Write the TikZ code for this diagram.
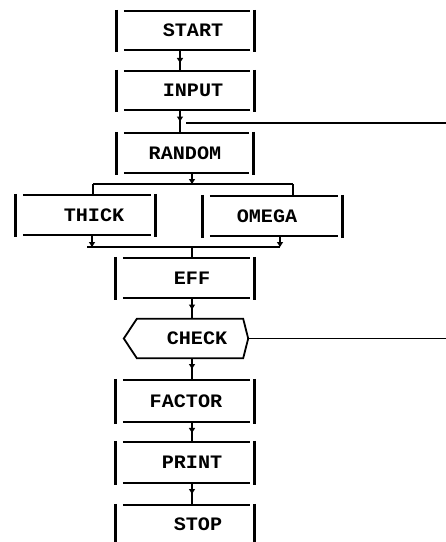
\documentclass[tikz,border=0pt]{standalone}
\usepackage{fontspec}
\newfontfamily\boxfont[FakeStretch=1.06]{Liberation Mono}
\usetikzlibrary{arrows.meta,decorations.markings,calc}
\tikzset{
  proc/.style={rectangle, inner sep=0pt, font=\boxfont\bfseries\fontsize{19}{19}\selectfont},
  hbar/.style={line width=1.8pt},
  vbar/.style={line width=2.8pt},
  flow/.style={line width=1.4pt},
  midarrow/.style={flow, postaction={decorate}, decoration={markings, mark=at position #1 with {\arrow{Triangle[length=5pt,width=6pt]}}}},
  endarrow/.style={flow, -{Triangle[length=5pt,width=6pt]}},
  feedback/.style={line width=1.6pt},
  txr/.style={execute at begin node={\hspace*{#1}}},
  txl/.style={execute at end node={\hspace*{#1}}},
}
\newcommand\procbox[1]{%
  \draw[vbar] ([yshift=1pt]#1.north west) -- ([yshift=-1.5pt]#1.south west);
  \draw[vbar] ([yshift=1pt]#1.north east) -- ([yshift=-1.5pt]#1.south east);
  \draw[hbar] ([xshift=7pt]#1.north west) -- ([xshift=-4pt]#1.north east);
  \draw[hbar] ([xshift=7pt]#1.south west) -- ([xshift=-4pt]#1.south east);
}
\begin{document}
\begin{tikzpicture}[x=1pt,y=-1pt]
\useasboundingbox (0,0) rectangle (446,542);
\clip (0,0) rectangle (446,542);
\fill[white] (0,0) rectangle (446,542);
% boxes
\node[proc, minimum width=137pt, minimum height=39pt, txr=15pt] (start) at (185.5,30.5) {START};
\node[proc, minimum width=137pt, minimum height=39pt, txr=15pt] (input) at (185.5,90.5) {INPUT};
\node[proc, minimum width=136pt, minimum height=40pt] (random) at (185,153) {RANDOM};
\node[proc, minimum width=139pt, minimum height=40pt, txr=17pt] (thick) at (85.5,215) {THICK};
\node[proc, minimum width=139pt, minimum height=40pt, txl=11pt] (omega) at (272.5,216) {OMEGA};
\node[proc, minimum width=138pt, minimum height=40pt, txr=14pt] (eff) at (185,278) {EFF};
\node[proc, minimum width=124pt, minimum height=39pt, txr=22pt] (check) at (186,338.5) {CHECK};
\node[proc, minimum width=138pt, minimum height=42pt, txr=2pt] (factor) at (185,401) {FACTOR};
\node[proc, minimum width=138pt, minimum height=41pt, txr=14pt] (print) at (185,462.5) {PRINT};
\node[proc, minimum width=138pt, minimum height=38pt, txr=26pt] (stop) at (185,524) {STOP};
\procbox{start}
\procbox{input}
\procbox{random}
\procbox{thick}
\procbox{omega}
\procbox{eff}
\procbox{factor}
\procbox{print}
\procbox{stop}
\draw[hbar, line join=miter] (check.west) -- ([xshift=13pt]check.north west) -- ([xshift=-5pt]check.north east) -- (check.east) -- ([xshift=-5pt]check.south east) -- ([xshift=13pt]check.south west) -- cycle;
% columns and junctions
\coordinate (colA) at (180,0);
\coordinate (colB) at (192,0);
\coordinate (split) at (192,184);
\coordinate (sl) at (93,184);
\coordinate (sr) at (293,184);
\coordinate (ml) at (87,247);
\coordinate (mr) at (280,247);
\coordinate (mj) at (192,247);
\coordinate (tl) at (92,247);
\coordinate (fbA) at (446,123);
\coordinate (fbAend) at (186,123);
\coordinate (fbB) at (446,338.5);
% connectors
\draw[midarrow=0.62] (start.south -| colA) -- (input.north -| colA);
\draw[midarrow=0.5] (input.south -| colA) -- (random.north -| colA);
\draw[endarrow] (random.south -| colB) -- (split);
\draw[flow] (sl) -- (sr);
\draw[flow] (sl) -- (sl |- thick.north);
\draw[flow] (sr) -- (sr |- omega.north);
\draw[endarrow] (thick.south -| tl) -- (tl);
\draw[endarrow] (omega.south -| mr) -- (mr);
\draw[flow] (ml) -- (mr);
\draw[flow] (mj) -- (eff.north -| mj);
\draw[midarrow=0.55] (eff.south -| colB) -- (check.north -| colB);
\draw[midarrow=0.5] (check.south -| colB) -- (factor.north -| colB);
\draw[midarrow=0.55] (factor.south -| colB) -- (print.north -| colB);
\draw[midarrow=0.5] (print.south -| colB) -- (stop.north -| colB);
\draw[feedback] (fbA) -- (fbAend);
\draw[feedback] (check.east) -- (fbB);
\end{tikzpicture}
\end{document}
